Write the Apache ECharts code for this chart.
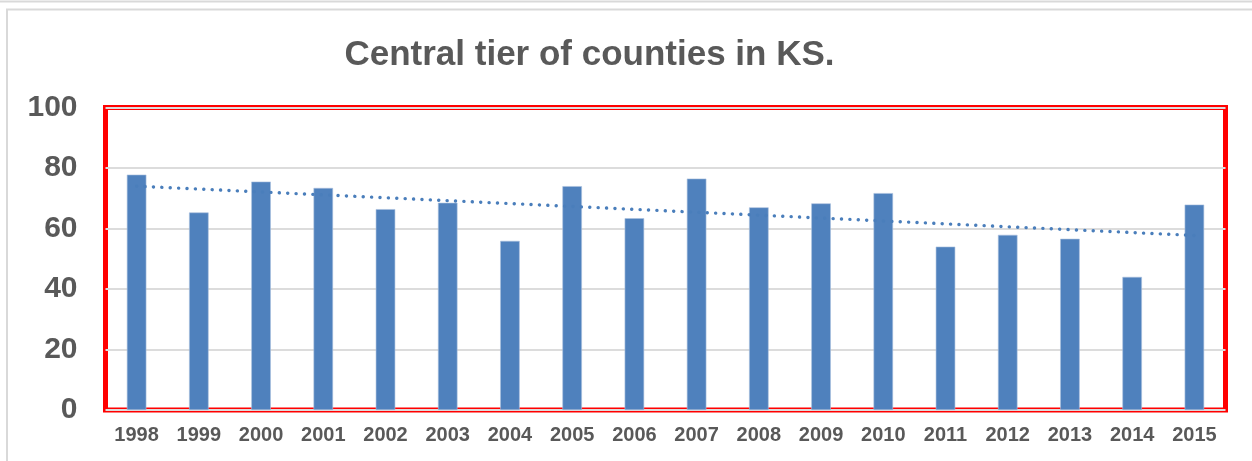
<!DOCTYPE html>
<html>
<head>
<meta charset="utf-8">
<script src="https://cdn.jsdelivr.net/npm/echarts@6/dist/echarts.min.js"></script>
<style>
html,body{margin:0;padding:0;background:#fff;}
#chart{width:1252px;height:461px;}
</style>
</head>
<body>
<div id="chart"></div>
<script>
const categories = ['1998','1999','2000','2001','2002','2003','2004','2005','2006','2007','2008','2009','2010','2011','2012','2013','2014','2015'];
const values = [77.8, 65.3, 75.5, 73.4, 66.4, 68.5, 55.9, 74.0, 63.4, 76.5, 67.0, 68.3, 71.7, 54.0, 57.9, 56.6, 44.0, 67.9];
const trendStart = 74.0;
const trendEnd = 57.7;
const yTicks = [0, 20, 40, 60, 80, 100];
const titleText = 'Central tier of counties in KS.';

const trend = categories.map((c, i) => i === 0 ? trendStart : (i === categories.length - 1 ? trendEnd : '-'));

const chart = echarts.init(document.getElementById('chart'), null, {renderer: 'canvas'});
const font = '"Liberation Sans", Arial, sans-serif';
chart.setOption({
  animation: false,
  backgroundColor: '#fff',
  graphic: [
    {type: 'line', shape: {x1: 0, y1: 1.5, x2: 1252, y2: 1.5}, style: {stroke: '#d9d9d9', lineWidth: 2}, silent: true},
    {type: 'rect', shape: {x: 7, y: 9.5, width: 1270, height: 480}, style: {fill: 'none', stroke: '#d9d9d9', lineWidth: 2}, silent: true},
    {type: 'text', x: 589.5, y: 55, style: {text: titleText, font: 'bold 35px ' + font, fill: '#595959', textAlign: 'center', textVerticalAlign: 'middle'}, silent: true}
  ],
  grid: {
    left: 105.5, right: 26.5, top: 107.5, bottom: 51,
    show: true, borderColor: '#ff0000', borderWidth: 5, backgroundColor: 'transparent'
  },
  xAxis: {
    type: 'category',
    data: categories,
    axisLine: {show: false},
    axisTick: {show: false},
    axisLabel: {color: '#595959', fontSize: 20, fontWeight: 'bold', fontFamily: font, margin: 15, interval: 0}
  },
  yAxis: {
    type: 'value',
    min: 0, max: 100, interval: 20,
    axisLine: {show: false},
    axisTick: {show: false},
    splitLine: {lineStyle: {color: '#dcdcdc', width: 2}},
    axisLabel: {
      color: '#595959', fontSize: 30, fontWeight: 'bold', fontFamily: font, margin: 28,
      formatter: v => yTicks.indexOf(v) >= 0 ? String(v) : ''
    }
  },
  series: [
    {
      type: 'bar',
      data: values,
      barWidth: 19.5,
      itemStyle: {color: '#4f81bd', borderColor: '#a9c0de', borderWidth: 0.6},
      z: 2
    },
    {
      type: 'line',
      data: trend,
      connectNulls: true,
      symbol: 'none',
      lineStyle: {color: '#4a7ebb', width: 3.4, type: [0.1, 8.3], cap: 'round'},
      z: 3
    }
  ]
});
</script>
</body>
</html>
